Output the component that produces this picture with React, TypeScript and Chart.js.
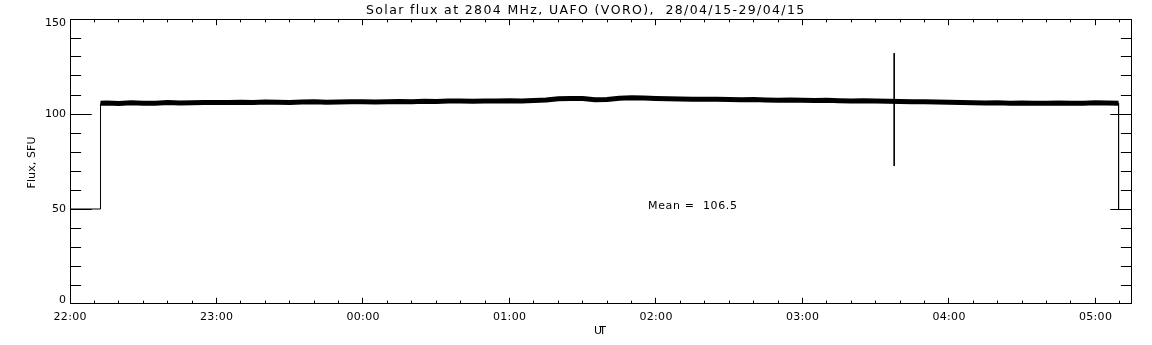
import { useEffect, useRef } from "react";
import { Chart, registerables } from "chart.js";

Chart.register(...registerables);

// Time axis: minutes after 22:00 UT (28/04/15)
const X_MIN = 0;
const X_MAX = 435; // 05:15
const Y_MIN = 0;
const Y_MAX = 150;

// Hour tick values / labels
const hourTicks = [0, 60, 120, 180, 240, 300, 360, 420];
const hourLabels = ["22:00", "23:00", "00:00", "01:00", "02:00", "03:00", "04:00", "05:00"];
const yMajorTicks = [0, 50, 100, 150];
const yTickLabels = ["0", "50", "100", "150"];

// Pre-observation baseline and step up
const stepInMinutes = [0, 12.5, 12.5];
const stepInFlux = [50, 50, 105.6];

// Main noisy record (5-minute samples)
const bandMinutes = [12.5, ...Array.from({ length: 83 }, (_, i) => 15 + 5 * i), 429.5];
const bandFlux = [
  105.6, 105.8, 105.5, 105.9, 105.7, 105.6, 106.0, 105.8, 105.9, 106.0,
  106.1, 106.0, 106.2, 106.1, 106.3, 106.2, 106.1, 106.3, 106.4, 106.2,
  106.3, 106.5, 106.4, 106.3, 106.5, 106.6, 106.5, 106.7, 106.6, 106.8,
  106.9, 106.7, 106.8, 106.9, 107.0, 106.9, 107.1, 107.4, 108.0, 108.2,
  108.1, 107.5, 107.6, 108.3, 108.5, 108.4, 108.2, 108.0, 107.9, 107.8,
  107.7, 107.8, 107.6, 107.5, 107.6, 107.4, 107.3, 107.4, 107.2, 107.1,
  107.2, 107.0, 106.9, 107.0, 106.8, 106.7, 106.6, 106.5, 106.4, 106.3,
  106.2, 106.0, 105.9, 105.8, 105.9, 105.7, 105.8, 105.6, 105.7, 105.8,
  105.6, 105.7, 105.9, 105.8, 105.7,
];

// End of record drop
const stepOutMinutes = [429.5, 429.5];
const stepOutFlux = [105.7, 50];

// Interference spike near 03:37
const spikeMinutes = [337.6, 337.6];
const spikeFlux = [132, 72.6];

const meanFlux = 106.5;
const titleText = "Solar flux at 2804 MHz, UAFO (VORO),  28/04/15-29/04/15";

const FONT = '"DejaVu Sans", sans-serif';

function toPoints(xs: number[], ys: number[]) {
  return xs.map((x, i) => ({ x, y: ys[i] }));
}

function drawFit(
  ctx: CanvasRenderingContext2D,
  text: string,
  x: number,
  y: number,
  width: number,
  align: "left" | "center" | "right"
) {
  const chars = [...text];
  const natural = ctx.measureText(text).width;
  const extra = chars.length > 1 ? (width - natural) / (chars.length - 1) : 0;
  let cx = align === "center" ? x - width / 2 : align === "right" ? x - width : x;
  ctx.textAlign = "left";
  for (const c of chars) {
    ctx.fillText(c, cx, y);
    cx += ctx.measureText(c).width + extra;
  }
}

const framePlugin = {
  id: "idlFrame",
  afterDraw(chart: any) {
    const ctx: CanvasRenderingContext2D = chart.ctx;
    const { left, right, top, bottom } = chart.chartArea;
    const xs = chart.scales.x;
    const ys = chart.scales.y;
    const h = bottom - top;
    const w = right - left;
    const xMajorLen = 0.02 * h;
    const xMinorLen = 0.01 * h;
    const yMajorLen = 0.02 * w;
    const yMinorLen = 0.01 * w;
    const boxL = left + 0.5;
    const boxR = right - 0.5;
    const boxT = top + 0.5;
    const boxB = bottom - 0.5;
    const clamp = (v: number, a: number, b: number) => Math.min(b, Math.max(a, v));

    ctx.save();
    ctx.strokeStyle = "#000";
    ctx.fillStyle = "#000";
    ctx.lineWidth = 1;

    // box
    ctx.strokeRect(boxL, boxT, boxR - boxL, boxB - boxT);

    ctx.beginPath();
    // x ticks (bottom + top), every 10 minutes
    for (let m = X_MIN; m <= X_MAX; m += 10) {
      const px = clamp(Math.floor(xs.getPixelForValue(m)) + 0.5, boxL, boxR);
      const major = m % 60 === 0;
      const len = major ? xMajorLen : xMinorLen;
      ctx.moveTo(px, boxB);
      ctx.lineTo(px, boxB - len);
      ctx.moveTo(px, boxT);
      ctx.lineTo(px, boxT + len);
    }
    // y ticks (left + right), every 10 units
    for (let v = Y_MIN; v <= Y_MAX; v += 10) {
      const py = clamp(Math.floor(ys.getPixelForValue(v)) + 0.5, boxT, boxB);
      const major = v % 50 === 0;
      const len = major ? yMajorLen : yMinorLen;
      ctx.moveTo(boxL, py);
      ctx.lineTo(boxL + len, py);
      ctx.moveTo(boxR, py);
      ctx.lineTo(boxR - len, py);
    }
    ctx.stroke();

    // labels
    ctx.font = `11px ${FONT}`;
    ctx.textBaseline = "alphabetic";
    hourTicks.forEach((m, i) => {
      const px = xs.getPixelForValue(m);
      drawFit(ctx, hourLabels[i], px, 320, 33, "center");
    });
    ctx.textBaseline = "middle";
    yMajorTicks.forEach((v, i) => {
      let py = ys.getPixelForValue(v);
      if (v === Y_MAX) py += 4;
      if (v === Y_MIN) py -= 4;
      ctx.textAlign = "right";
      ctx.fillText(yTickLabels[i], left - 4, py);
    });

    // axis titles
    ctx.textBaseline = "alphabetic";
    drawFit(ctx, "UT", (left + right) / 2 - 1, 334, 12, "center");
    ctx.save();
    ctx.translate(35, 162.5);
    ctx.rotate(-Math.PI / 2);
    drawFit(ctx, "Flux, SFU", 0, 0, 52, "center");
    ctx.restore();

    // mean annotation
    drawFit(ctx, `Mean =  ${meanFlux.toFixed(1)}`, 648, 209, 89, "left");

    // title
    ctx.font = `12.5px ${FONT}`;
    drawFit(ctx, titleText, 585, 14, 438, "center");

    ctx.restore();
  },
};

export default function App() {
  const canvasRef = useRef<HTMLCanvasElement | null>(null);

  useEffect(() => {
    document.body.style.margin = "0";
    const canvas = canvasRef.current;
    if (!canvas) return;
    const lineDs = (data: { x: number; y: number }[], width: number) => ({
      data,
      borderColor: "#000",
      backgroundColor: "#000",
      borderWidth: width,
      pointRadius: 0,
      tension: 0,
      fill: false,
      borderCapStyle: "butt" as const,
      borderJoinStyle: "miter" as const,
    });
    const chart = new Chart(canvas, {
      type: "line",
      data: {
        datasets: [
          lineDs(toPoints(stepInMinutes, stepInFlux), 1),
          lineDs(toPoints(bandMinutes, bandFlux), 5),
          lineDs(toPoints(stepOutMinutes, stepOutFlux), 1),
          lineDs(toPoints(spikeMinutes, spikeFlux), 1),
        ],
      },
      options: {
        responsive: false,
        animation: false,
        devicePixelRatio: 1,
        layout: { padding: { left: 70, right: 20, top: 19, bottom: 41 } },
        plugins: {
          legend: { display: false },
          title: { display: false },
          tooltip: { enabled: false },
        },
        scales: {
          x: { type: "linear", min: X_MIN, max: X_MAX, display: false },
          y: { type: "linear", min: Y_MIN, max: Y_MAX, display: false },
        },
        events: [],
      },
      plugins: [framePlugin],
    });
    return () => chart.destroy();
  }, []);

  return (
    <div style={{ position: "absolute", left: 0, top: 0, width: 1152, height: 345, background: "#fff" }}>
      <canvas ref={canvasRef} width={1152} height={345} style={{ display: "block" }} />
    </div>
  );
}
